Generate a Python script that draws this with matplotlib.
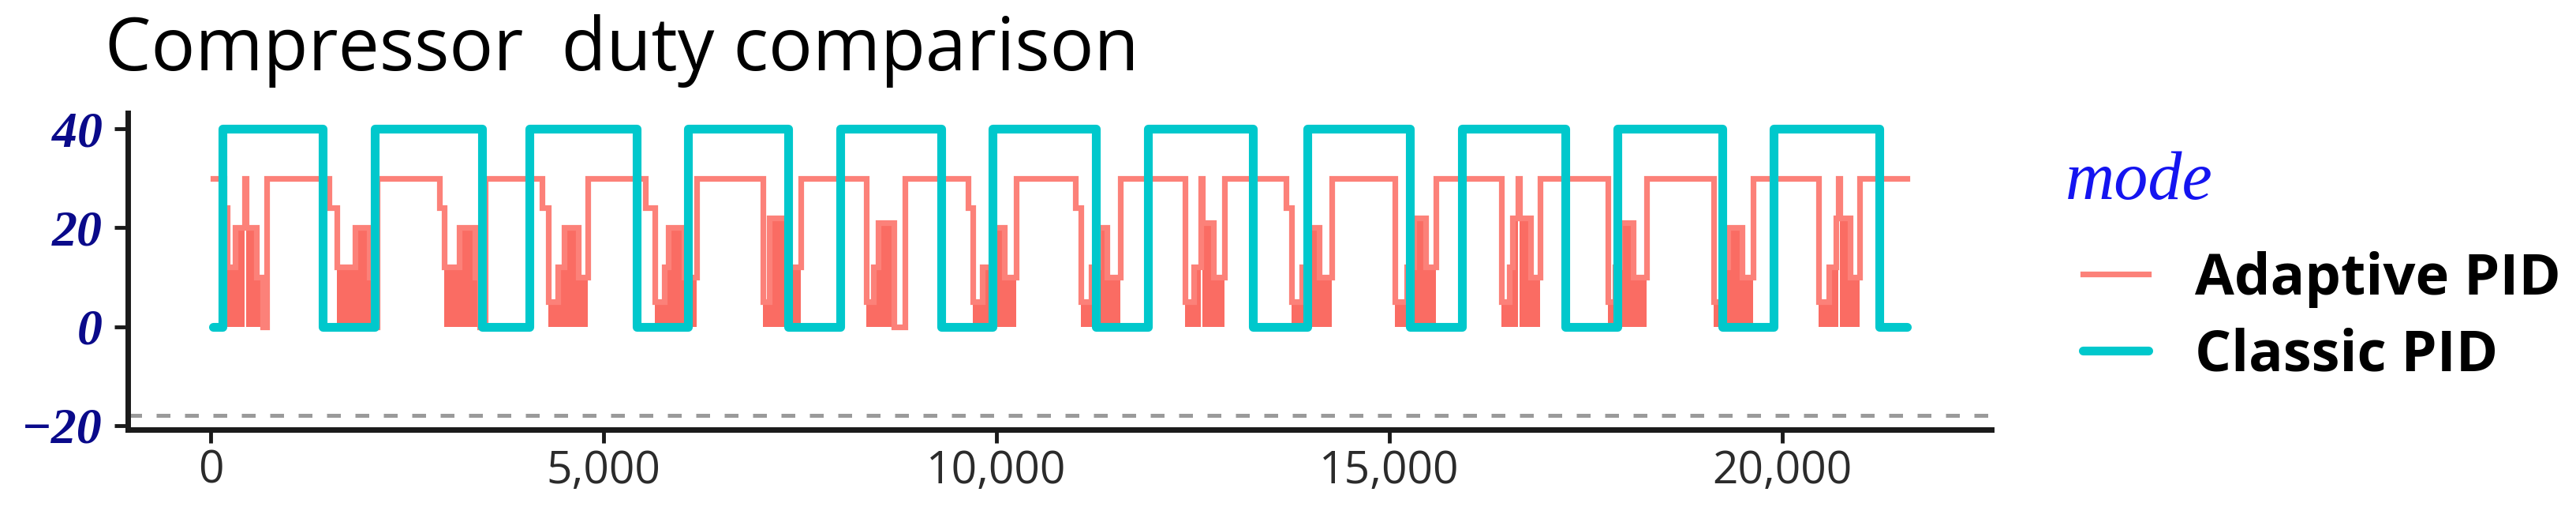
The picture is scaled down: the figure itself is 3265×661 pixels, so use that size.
import numpy as np
import matplotlib
matplotlib.use('Agg')
import matplotlib.pyplot as plt
from matplotlib.ticker import FuncFormatter

# Classic PID: step series (time, duty)
classic_t = [30, 147, 1429, 2088, 3451, 4060, 5418, 6071, 7352, 8012, 9301,
             9953, 11268, 11928, 13266, 13952, 15258, 15927, 17242, 17901,
             19240, 19893, 21232, 21583]
classic_v = [0, 40, 0, 40, 0, 40, 0, 40, 0, 40, 0,
             40, 0, 40, 0, 40, 0, 40, 0, 40,
             0, 40, 0, 0]

# Adaptive PID: step series, levels below 24 are dense on/off bursts
adaptive_t = [30, 170, 211, 311, 432, 452, 582, 663, 713,
              1506, 1606, 1837, 2018, 2078, 2118,
              2912, 2972, 3163, 3363, 3424, 3494,
              4217, 4297, 4418, 4498, 4679, 4799,
              5530, 5652, 5772, 5823, 6024, 6185,
              7028, 7108, 7329, 7510,
              8343, 8434, 8494, 8695, 8835,
              9638, 9699, 9819, 9970, 10100, 10251,
              11004, 11074, 11205, 11295, 11405, 11576,
              12399, 12510, 12600, 12620, 12761, 12901,
              13685, 13755, 13885, 13966, 14106, 14267,
              15070, 15221, 15311, 15462, 15592,
              16425, 16526, 16566, 16640, 16660, 16797, 16917,
              17781, 17871, 17931, 18102, 18273,
              19126, 19237, 19307, 19488, 19628,
              20461, 20592, 20682, 20710, 20730, 20863, 20984,
              21586]
adaptive_v = [30, 24, 12, 20, 30, 20, 10, 0, 30,
              24, 12, 20, 10, 0, 30,
              24, 12, 20, 10, 0, 30,
              24, 5, 12, 20, 10, 30,
              24, 5, 12, 20, 10, 30,
              5, 22, 12, 30,
              5, 12, 21, 0, 30,
              24, 5, 12, 20, 10, 30,
              24, 5, 12, 20, 10, 30,
              5, 12, 30, 21, 10, 30,
              24, 5, 12, 20, 10, 30,
              5, 12, 22, 12, 30,
              5, 12, 22, 30, 22, 10, 30,
              5, 12, 21, 10, 30,
              5, 12, 20, 10, 30,
              5, 12, 22, 30, 22, 10, 30,
              30]

x_ticks = [0, 5000, 10000, 15000, 20000]
y_ticks = [-20, 0, 20, 40]
ref_level = -18

red_line = '#FC8179'
red_fill = '#FA6C63'
cyan = '#00C8CC'

fig = plt.figure(figsize=(32.66, 6.61), dpi=100)
ax = fig.add_axes([162 / 3266, 1 - 544 / 661, (2524 - 162) / 3266, (544 - 143) / 661])

t = np.array(adaptive_t, dtype=float)
v = np.array(adaptive_v, dtype=float)
dense = (v[:-1] < 23) & (v[:-1] > 0)
ax.bar(t[:-1][dense], v[:-1][dense], width=np.diff(t)[dense], align='edge',
       color=red_fill, linewidth=0, zorder=2)
l1, = ax.plot(t, v, drawstyle='steps-post', color=red_line, lw=5.2,
              solid_joinstyle='miter', zorder=3, label='Adaptive PID')
l2, = ax.plot(classic_t, classic_v, drawstyle='steps-post', color=cyan, lw=8,
              solid_joinstyle='round', solid_capstyle='round', zorder=4,
              label='Classic PID')

ax.axhline(ref_level, color='#9a9a9a', lw=3.6, linestyle=(0, (3.5, 3.7)), zorder=1)

ax.set_xlim(-1054, 22660)
ax.set_ylim(-20.8, 43.2)
ax.set_xticks(x_ticks)
ax.set_yticks(y_ticks)
ax.xaxis.set_major_formatter(FuncFormatter(lambda x, p: f'{x:,.0f}'))

for s in ['top', 'right']:
    ax.spines[s].set_visible(False)
for s in ['left', 'bottom']:
    ax.spines[s].set_linewidth(5)
    ax.spines[s].set_color('#1a1a1a')

ax.tick_params(axis='y', length=12, width=3.5, pad=11, labelsize=46,
               labelcolor='#0A0A8A', color='#1a1a1a')
ax.tick_params(axis='x', length=12, width=3.5, pad=6, labelsize=41,
               labelcolor='#2b2b2b', color='#1a1a1a')
for lab in ax.get_yticklabels():
    lab.set_fontfamily('Liberation Serif')
    lab.set_fontstyle('italic')
    lab.set_fontweight('bold')
for lab in ax.get_xticklabels():
    lab.set_fontfamily('Open Sans')

fig.text(133 / 3266, 1 - 89 / 661, 'Compressor  duty comparison', fontsize=67,
         family='Open Sans', color='black', va='baseline', ha='left')

fig.text(2618 / 3266, 1 - 252 / 661, 'mode', fontsize=62, family='Liberation Serif',
         style='italic', color='#1414F0', va='baseline', ha='left')

ax.legend(handles=[l1, l2], loc='center left',
          bbox_to_anchor=(2640 / 3266, 1 - 402 / 661), bbox_transform=fig.transFigure,
          frameon=False, borderpad=0, borderaxespad=0, handlelength=1.15,
          handletextpad=0.82, labelspacing=0.34,
          prop={'family': 'Open Sans', 'weight': 'bold', 'size': 52})

fig.savefig('out.png', dpi=100)
